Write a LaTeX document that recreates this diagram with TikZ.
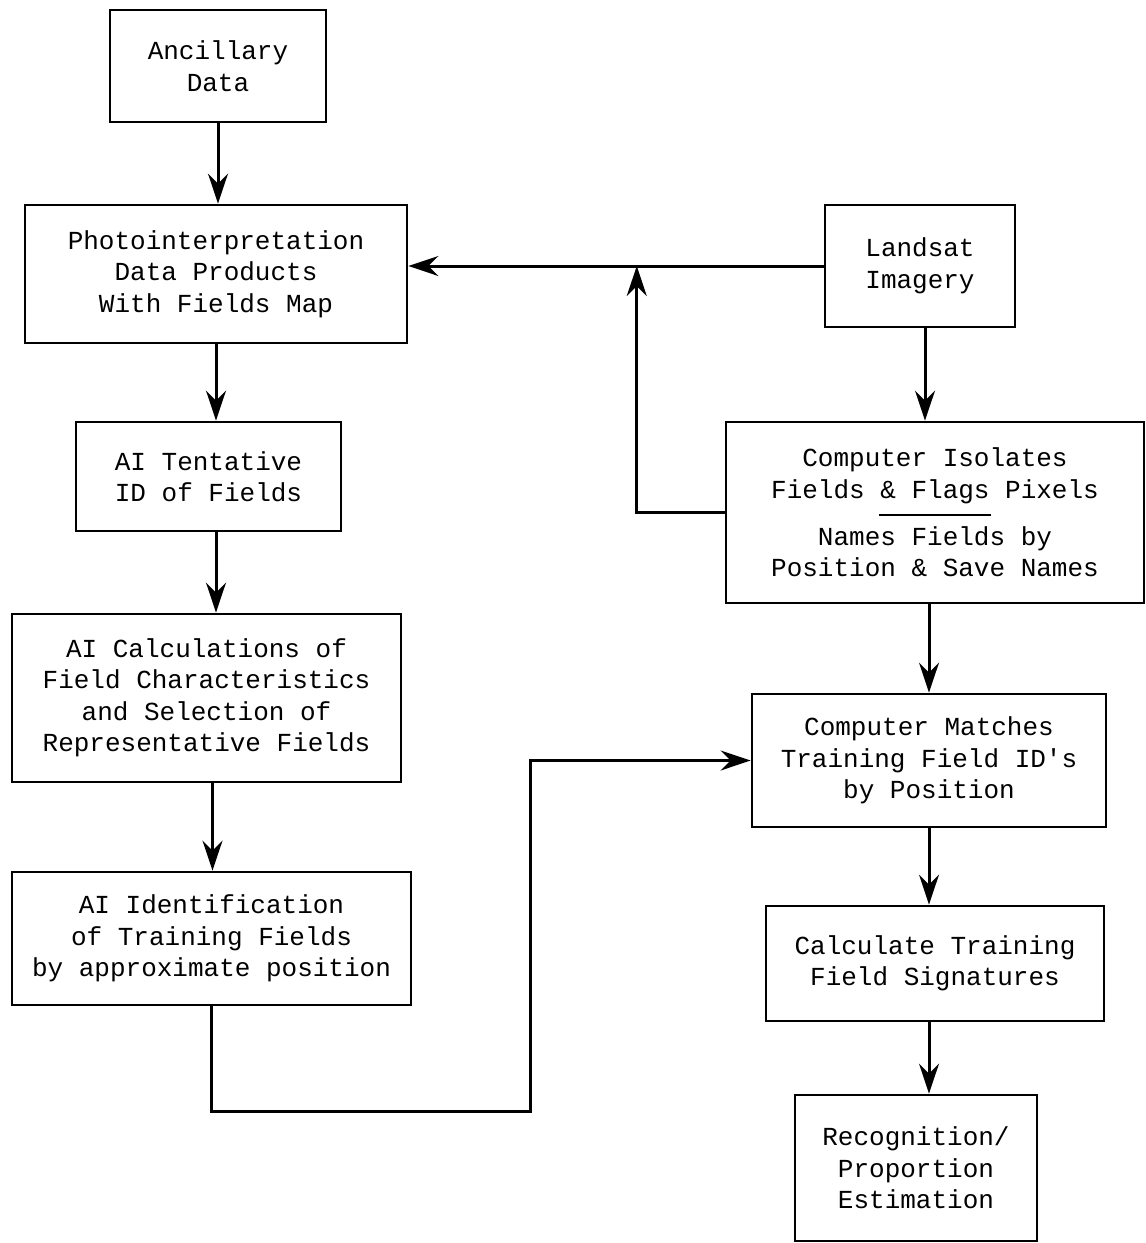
\documentclass[tikz,border=0pt]{standalone}
\usepackage{fontspec}
\newfontfamily\typefont{Liberation Mono}
\usetikzlibrary{arrows.meta}
\begin{document}
\begin{tikzpicture}[
        x=0.5pt, y=-0.5pt,
        flowbox/.style={rectangle, draw, line width=1.4pt, align=center, inner sep=0pt, font=\typefont\fontsize{13}{15.75}\selectfont},
        arrow/.style={-{Stealth[length=15pt, width=10pt, inset=5pt]}, line width=1.5pt}
    ]
        \useasboundingbox (0,0) rectangle (1146,1243);

        % Left column
        % Ancillary data
        \node[flowbox, minimum width=108pt, minimum height=56pt] (anc) at (218,66) {Ancillary\\Data};

        % Photointerpretation products
        \node[flowbox, minimum width=191pt, minimum height=69pt] (photo) at (216,274) {Photointerpretation\\Data Products\\With Fields Map};

        % Tentative ID
        \node[flowbox, minimum width=132.5pt, minimum height=54.5pt] (tent) at (208.5,476.5) {AI Tentative\\ID of Fields};

        % Calculations
        \node[flowbox, minimum width=194.5pt, minimum height=84pt] (calc) at (206.5,698) {AI Calculations of\\Field Characteristics\\and Selection of\\Representative Fields};

        % Identification of training fields
        \node[flowbox, minimum width=199.5pt, minimum height=66.5pt] (ident) at (211.5,938.5) {AI Identification\\of Training Fields\\by approximate position};

        % Right column
        % Landsat imagery
        \node[flowbox, minimum width=95pt, minimum height=61pt] (land) at (920,266) {Landsat\\Imagery};

        % Computer isolates fields
        \node[flowbox, minimum width=209pt, minimum height=90.5pt] (iso) at (935,512.5) {Computer Isolates\\Fields \& Flags Pixels\\[-7pt]\rule{56pt}{1pt}\\[-1pt]Names Fields by\\Position \& Save Names};

        % Computer matches
        \node[flowbox, minimum width=177pt, minimum height=66.5pt] (match) at (929,760.5) {Computer Matches\\Training Field ID's\\by Position};

        % Signatures
        \node[flowbox, minimum width=169pt, minimum height=57.5pt] (sig) at (935,963.5) {Calculate Training\\Field Signatures};

        % Recognition
        \node[flowbox, minimum width=121pt, minimum height=73pt] (recog) at (916,1168) {Recognition/\\Proportion\\Estimation};

        % Arrows down the left column
        \draw[arrow] (anc.south) -- (anc.south |- photo.north);
        \draw[arrow] (photo.south) -- (photo.south |- tent.north);
        \draw[arrow] (tent.south -| photo.south) -- (photo.south |- calc.north);
        \draw[arrow] ([xshift=3pt]calc.south) -- ([xshift=3pt]calc.south |- ident.north);

        % Landsat to photointerpretation, with the feedback joining it
        \draw[arrow] (land.west) -- (land.west -| photo.east) coordinate[pos=0.45] (join);
        \draw[arrow] (iso.west) -| (join);

        % Arrows down the right column
        \draw[arrow] ([xshift=2.5pt]land.south) -- ([xshift=2.5pt]land.south |- iso.north);
        \draw[arrow] (iso.south -| match.north) -- (match.north);
        \draw[arrow] (match.south) -- (match.south |- sig.north);
        \draw[arrow] (sig.south -| match.south) -- (match.south |- recog.north);

        % Training fields across to the matching
        \coordinate (low) at (530,1111);
        \draw[arrow] (ident.south) |- (low) |- (match.west);

    \end{tikzpicture}
\end{document}
